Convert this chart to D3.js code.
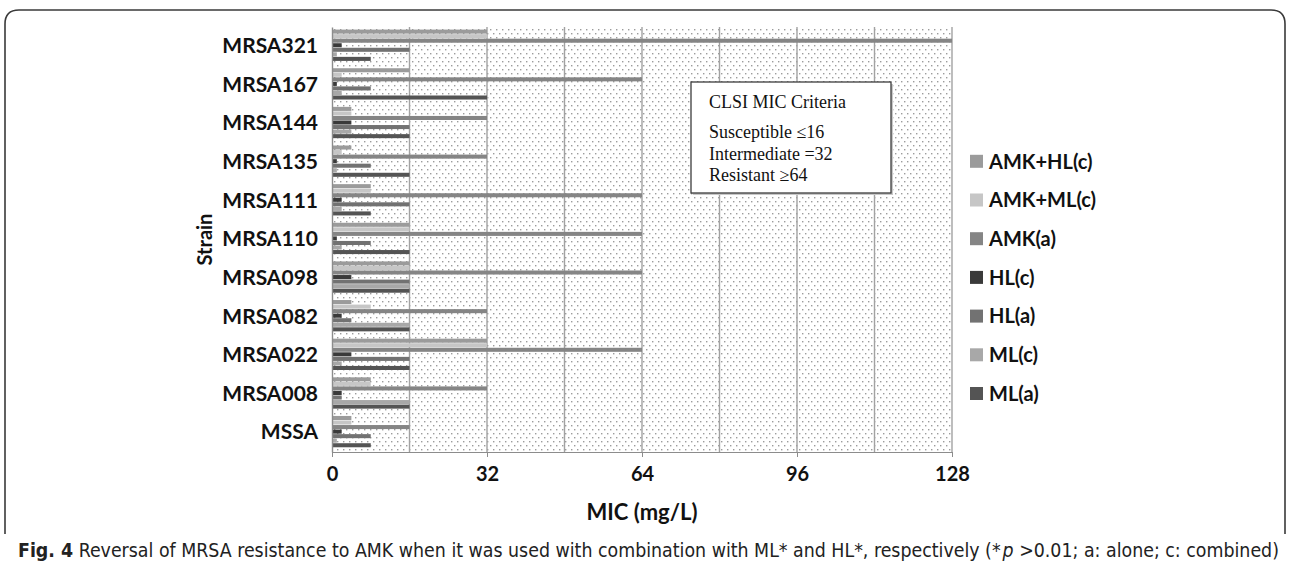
<!DOCTYPE html>
<html>
<head>
<meta charset="utf-8">
<script src="https://cdn.jsdelivr.net/npm/d3@7"></script>
<style>
  body { margin: 0; background: #fff; }
  .axis path, .axis line { stroke: #8c8c8c; }
  .lbl { font-family: Lato, "Open Sans", sans-serif; font-weight: bold; fill: #111; }
</style>
</head>
<body>
<div class="chart"></div>
<script>
const width = 1290;
const height = 562;

// strains, top to bottom as drawn
const strains = ["MRSA321", "MRSA167", "MRSA144", "MRSA135", "MRSA111", "MRSA110",
  "MRSA098", "MRSA082", "MRSA022", "MRSA008", "MSSA"];
// series, top bar to bottom bar in each group (same order as legend)
const seriesNames = ["AMK+HL(c)", "AMK+ML(c)", "AMK(a)", "HL(c)", "HL(a)", "ML(c)", "ML(a)"];
const seriesColors = ["#9b9b9b", "#c6c6c6", "#858585", "#3a3a3a", "#727272", "#a8a8a8", "#545454"];

// MIC values (mg/L) per series, in strain order
const amkHLc = [32, 16, 4, 4, 8, 16, 16, 4, 32, 8, 4];
const amkMLc = [32, 2, 4, 2, 8, 16, 16, 8, 32, 8, 4];
const amkA   = [128, 64, 32, 32, 64, 64, 64, 32, 64, 32, 16];
const hlC    = [2, 1, 4, 1, 2, 1, 4, 2, 4, 2, 2];
const hlA    = [16, 8, 16, 8, 16, 8, 16, 4, 16, 2, 8];
const mlC    = [1, 2, 4, 1, 2, 2, 16, 16, 2, 16, 1];
const mlA    = [8, 32, 16, 16, 8, 16, 16, 16, 16, 16, 8];
const seriesValues = [amkHLc, amkMLc, amkA, hlC, hlA, mlC, mlA];

const xTicks = [0, 32, 64, 96, 128];
const gridTicks = [16, 32, 48, 64, 80, 96, 112, 128];

const criteria = ["CLSI MIC Criteria", "Susceptible \u226416", "Intermediate =32", "Resistant \u226564"];

const svg = d3.select(".chart")
  .append("svg")
  .attr("width", width)
  .attr("height", height);

// outer figure frame (rounded top, open bottom)
svg.append("path")
  .attr("d", "M5,534 L5,24 Q5,10 19,10 L1271,10 Q1285,10 1285,24 L1285,534")
  .attr("fill", "none")
  .attr("stroke", "#3a3a3a")
  .attr("stroke-width", 1.6);

const x = d3.scaleLinear().domain([0, 128]).range([332, 952]);
const y = d3.scaleBand().domain(strains).range([27, 452]);
const ySub = d3.scaleBand().domain(seriesNames).range([0, y.bandwidth()])
  .paddingInner(0).paddingOuter(0.75).align(0.35);

// dotted plot background
const defs = svg.append("defs");
const pat = defs.append("pattern")
  .attr("id", "dots")
  .attr("width", 6)
  .attr("height", 8)
  .attr("patternUnits", "userSpaceOnUse");
pat.append("rect").attr("width", 6).attr("height", 8).attr("fill", "#fff");
pat.append("rect").attr("x", 1).attr("y", 1).attr("width", 1.4).attr("height", 1.4).attr("fill", "#9c9c9c");
pat.append("rect").attr("x", 4).attr("y", 5).attr("width", 1.4).attr("height", 1.4).attr("fill", "#9c9c9c");

svg.append("rect")
  .attr("x", x(0))
  .attr("y", 27)
  .attr("width", x(128) - x(0))
  .attr("height", 452 - 27)
  .attr("fill", "url(#dots)");

svg.append("g")
  .selectAll("line")
  .data(gridTicks)
  .enter()
  .append("line")
  .attr("x1", d => x(d))
  .attr("x2", d => x(d))
  .attr("y1", 27)
  .attr("y2", 452)
  .attr("stroke", "#a2a2a2")
  .attr("stroke-width", 1.4);

// bars
const groups = svg.append("g")
  .selectAll("g")
  .data(strains)
  .enter()
  .append("g")
  .attr("transform", d => `translate(0,${y(d)})`);

groups.selectAll("rect")
  .data((d, i) => seriesNames.map((s, j) => ({ s: s, v: seriesValues[j][i], c: seriesColors[j] })))
  .enter()
  .append("rect")
  .attr("x", x(0))
  .attr("y", d => ySub(d.s) + 0.2)
  .attr("width", d => x(d.v) - x(0))
  .attr("height", ySub.bandwidth() - 0.5)
  .attr("fill", d => d.c);

// axes
const xAxis = svg.append("g")
  .attr("class", "axis")
  .attr("transform", "translate(0,452)")
  .call(d3.axisBottom(x).tickValues(xTicks).tickSize(5).tickPadding(10).tickFormat(d3.format("d")));
xAxis.select(".domain").attr("stroke", "#b5b5b5");
xAxis.selectAll("text").attr("class", "lbl").style("font-size", "20px");

const yAxis = svg.append("g")
  .attr("class", "axis")
  .attr("transform", `translate(${x(0)},0)`)
  .call(d3.axisLeft(y).tickSize(0).tickPadding(14));
yAxis.select(".domain").attr("stroke", "#8c8c8c").attr("stroke-width", 1.4);
yAxis.selectAll("text").attr("class", "lbl").style("font-size", "21px");

svg.append("text")
  .attr("class", "lbl")
  .attr("x", 642)
  .attr("y", 520)
  .attr("text-anchor", "middle")
  .style("font-size", "22px")
  .text("MIC (mg/L)");

svg.append("text")
  .attr("class", "lbl")
  .attr("transform", "translate(212,239.5) rotate(-90)")
  .attr("text-anchor", "middle")
  .style("font-size", "20px")
  .text("Strain");

// CLSI criteria box
svg.append("rect")
  .attr("x", 693)
  .attr("y", 84)
  .attr("width", 200)
  .attr("height", 111)
  .attr("fill", "#c8c8c8");
svg.append("rect")
  .attr("x", 691)
  .attr("y", 82)
  .attr("width", 200)
  .attr("height", 111)
  .attr("fill", "#fff")
  .attr("stroke", "#3c3c3c")
  .attr("stroke-width", 1.3);

svg.append("g")
  .selectAll("text")
  .data(criteria)
  .enter()
  .append("text")
  .attr("x", 709)
  .attr("y", (d, i) => i === 0 ? 108 : 138 + (i - 1) * 21.5)
  .style("font-family", "'Liberation Serif', 'DejaVu Serif', serif")
  .style("font-size", "18px")
  .attr("fill", "#111")
  .text(d => d);

// legend
const legend = svg.append("g")
  .selectAll("g")
  .data(seriesNames)
  .enter()
  .append("g")
  .attr("transform", (d, i) => `translate(970,${161.3 + i * 38.7})`);

legend.append("rect")
  .attr("x", 0)
  .attr("y", -6.5)
  .attr("width", 13)
  .attr("height", 13)
  .attr("fill", (d, i) => seriesColors[i]);

legend.append("text")
  .attr("class", "lbl")
  .attr("x", 19)
  .attr("dy", "0.36em")
  .style("font-size", "20px")
  .text(d => d);

// caption, squeezed horizontally to the reference's condensed width
const cap = svg.append("text")
  .style("font-family", "'DejaVu Sans Condensed', 'Open Sans', sans-serif")
  .style("font-size", "20px")
  .attr("fill", "#222");
cap.append("tspan").style("font-weight", "bold").text("Fig. 4");
cap.append("tspan").text(" Reversal of MRSA resistance to AMK when it was used with combination with ML* and HL*, respectively (*");
cap.append("tspan").style("font-style", "italic").attr("dx", 2).text("p");
cap.append("tspan").text(" >0.01; a: alone; c: combined)");
const capW = cap.node().getComputedTextLength();
cap.attr("transform", `translate(18,557) scale(${1260 / capW},1)`);
</script>
</body>
</html>
